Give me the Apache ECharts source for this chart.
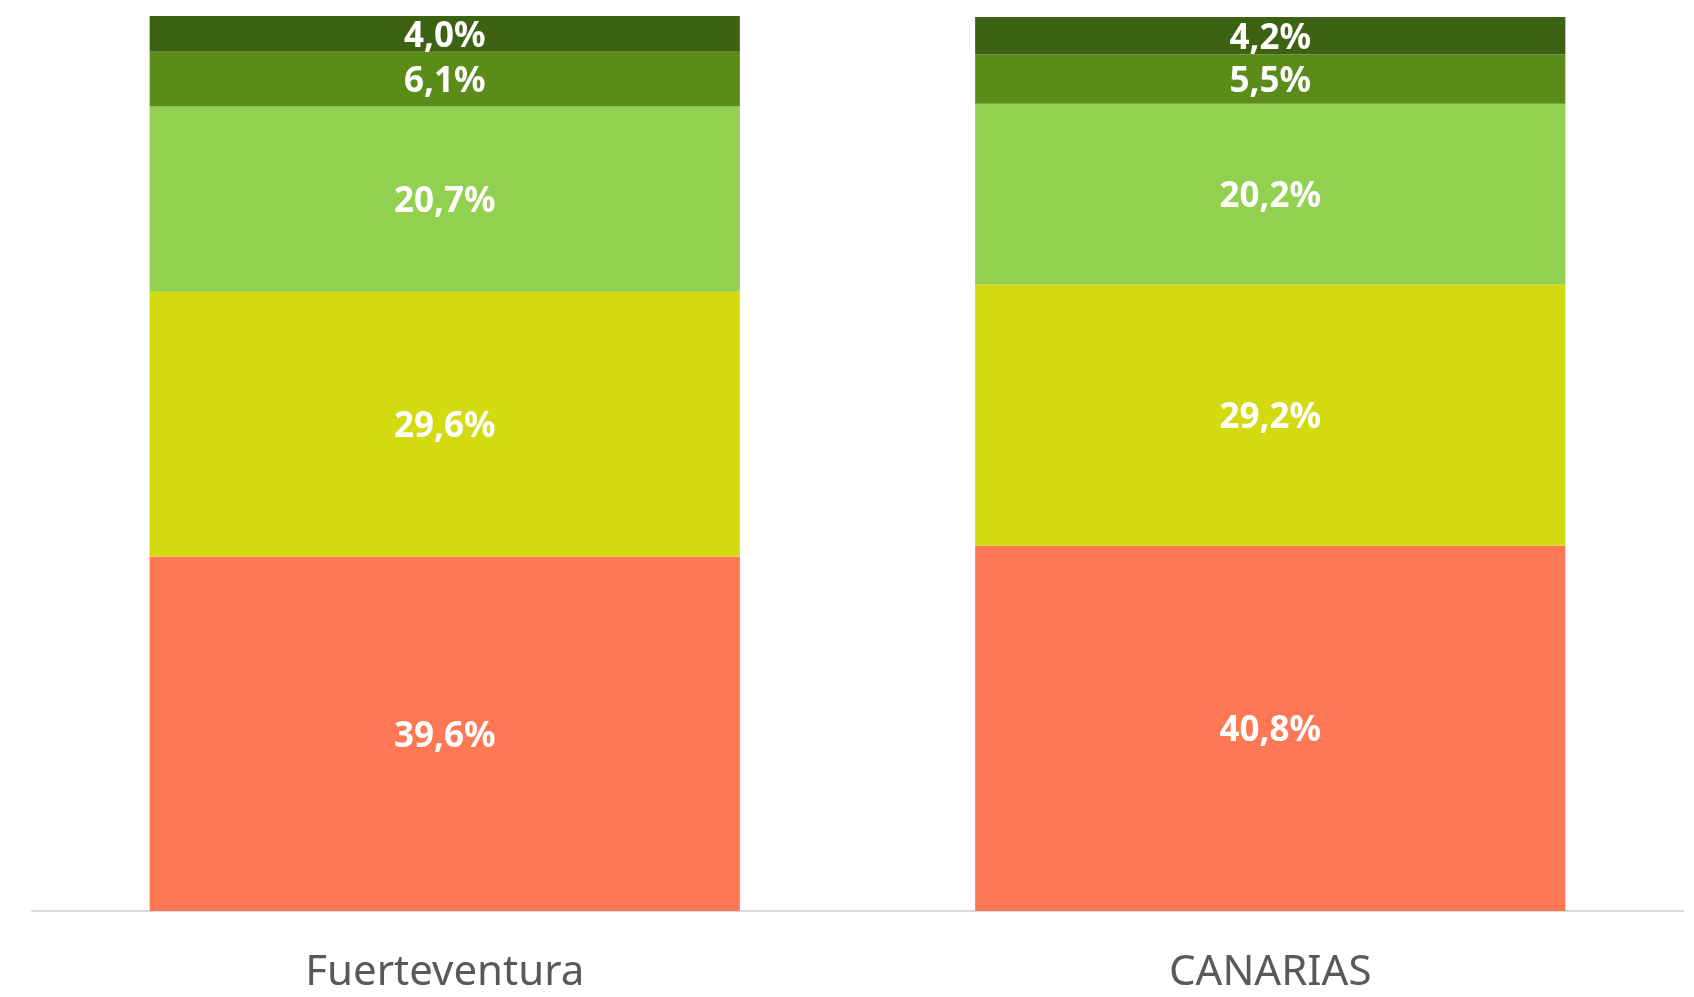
<!DOCTYPE html>
<html>
<head>
<meta charset="utf-8">
<script src="https://cdn.jsdelivr.net/npm/echarts@6/dist/echarts.min.js"></script>
<style>
  html, body { margin: 0; padding: 0; background: #fff; }
  #chart { width: 1694px; height: 997px; }
</style>
</head>
<body>
<div id="chart"></div>
<script>
// categorías del eje x
var categorias = ["Fuerteventura", "CANARIAS"];

// tramos apilados, de abajo hacia arriba (%)
var tramo1 = [39.6, 40.8];
var tramo2 = [29.6, 29.2];
var tramo3 = [20.7, 20.2];
var tramo4 = [6.1, 5.5];
var tramo5 = [4.0, 4.2];

var colores = ["#FF7855", "#D4DA10", "#92D050", "#5B8C1A", "#3D6212"];
var tramos = [tramo1, tramo2, tramo3, tramo4, tramo5];

function fmt(p) {
  return p.value.toFixed(1).replace(".", ",") + "%";
}

var series = tramos.map(function (d, i) {
  return {
    name: "tramo" + (i + 1),
    type: "bar",
    stack: "total",
    data: d,
    barCategoryGap: "28.5%",
    itemStyle: { color: colores[i] },
    label: {
      show: true,
      position: "inside",
      color: "#fff",
      fontFamily: "Noto Sans",
      fontWeight: "bold",
      fontSize: 35,
      offset: [0, 3],
      formatter: fmt
    }
  };
});

var chart = echarts.init(document.getElementById("chart"));
chart.setOption({
  animation: false,
  grid: { left: 32, right: 11, top: 16, bottom: 86 },
  xAxis: {
    type: "category",
    data: categorias,
    axisLine: { lineStyle: { color: "#D9D9D9", width: 2 } },
    axisTick: { show: false },
    axisLabel: {
      color: "#595959",
      fontFamily: "Noto Sans",
      fontSize: 42,
      margin: 41
    }
  },
  yAxis: {
    type: "value",
    min: 0,
    max: 100,
    show: false
  },
  series: series
});
</script>
</body>
</html>
